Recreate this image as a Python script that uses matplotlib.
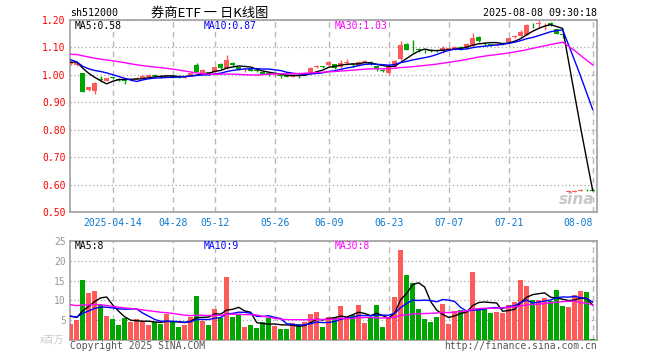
import numpy as np
import pandas as pd
import matplotlib
matplotlib.use('Agg')
import matplotlib.pyplot as plt

plt.rcParams['font.family'] = ['DejaVu Sans Mono', 'Noto Sans CJK SC']

# trading days shown (Qingming, May Day and Dragon Boat holidays skipped)
holidays = ['2025-04-04', '2025-05-01', '2025-05-02', '2025-05-05', '2025-06-02']
dates = pd.bdate_range('2025-04-02', '2025-08-08', freq='C', holidays=holidays)

open_ = [1.039, 1.036, 1.006, 0.943, 0.940, 0.985, 0.978, 0.992, 0.985, 0.984,
         0.980, 0.986, 0.990, 0.992, 0.998, 0.997, 0.994, 0.998, 0.994, 0.990,
         1.000, 1.036, 1.008, 1.010, 1.012, 1.040, 1.025, 1.045, 1.028, 1.016,
         1.020, 1.016, 1.012, 1.006, 0.998, 1.000, 0.998, 0.994, 0.998, 1.000,
         1.008, 1.028, 1.032, 1.036, 1.039, 1.028, 1.043, 1.040, 1.034, 1.046,
         1.048, 1.034, 1.018, 1.006, 1.030, 1.057, 1.114, 1.091, 1.094, 1.092,
         1.092, 1.090, 1.086, 1.094, 1.092, 1.100, 1.098, 1.104, 1.138, 1.114,
         1.112, 1.110, 1.112, 1.118, 1.138, 1.140, 1.146, 1.182, 1.185, 1.180,
         1.190, 1.167, 1.147, 0.572, 0.574, 0.576, 0.581, 0.580]
close = [1.046, 1.043, 0.939, 0.955, 0.972, 0.982, 0.988, 0.987, 0.983, 0.978,
         0.984, 0.990, 0.996, 0.998, 0.996, 0.994, 0.998, 0.992, 0.991, 0.994,
         1.006, 1.012, 1.016, 1.000, 1.028, 1.025, 1.055, 1.035, 1.020, 1.018,
         1.015, 1.014, 1.004, 0.998, 1.000, 0.997, 0.994, 1.000, 0.996, 1.006,
         1.025, 1.031, 1.028, 1.048, 1.025, 1.045, 1.046, 1.036, 1.048, 1.049,
         1.038, 1.021, 1.015, 1.030, 1.052, 1.110, 1.092, 1.089, 1.090, 1.089,
         1.086, 1.088, 1.098, 1.097, 1.100, 1.098, 1.112, 1.134, 1.122, 1.111,
         1.109, 1.112, 1.115, 1.136, 1.141, 1.155, 1.183, 1.180, 1.188, 1.183,
         1.180, 1.150, 1.145, 0.577, 0.578, 0.580, 0.579, 0.578]
high = [1.048, 1.046, 1.008, 0.957, 0.975, 0.995, 0.990, 0.994, 0.990, 0.986,
        0.986, 0.992, 1.000, 1.002, 1.002, 0.998, 1.000, 0.998, 0.995, 0.996,
        1.008, 1.042, 1.020, 1.012, 1.030, 1.042, 1.073, 1.048, 1.030, 1.024,
        1.022, 1.020, 1.014, 1.008, 1.004, 1.004, 1.000, 1.002, 1.002, 1.008,
        1.027, 1.037, 1.034, 1.050, 1.041, 1.054, 1.056, 1.045, 1.050, 1.053,
        1.050, 1.036, 1.022, 1.032, 1.054, 1.125, 1.116, 1.128, 1.098, 1.096,
        1.094, 1.092, 1.104, 1.100, 1.104, 1.106, 1.116, 1.152, 1.140, 1.120,
        1.114, 1.116, 1.118, 1.138, 1.146, 1.163, 1.185, 1.190, 1.200, 1.190,
        1.192, 1.168, 1.150, 0.580, 0.581, 0.583, 0.583, 0.581]
low = [1.036, 1.033, 0.936, 0.940, 0.930, 0.975, 0.976, 0.984, 0.978, 0.965,
       0.978, 0.984, 0.988, 0.990, 0.990, 0.990, 0.992, 0.990, 0.988, 0.989,
       0.998, 1.010, 1.006, 0.998, 1.010, 1.022, 1.022, 1.032, 1.018, 1.012,
       1.013, 1.012, 1.002, 0.996, 0.992, 0.990, 0.992, 0.992, 0.990, 0.998,
       1.006, 1.024, 1.026, 1.034, 1.020, 1.026, 1.036, 1.030, 1.032, 1.044,
       1.036, 1.014, 1.010, 1.004, 1.028, 1.055, 1.090, 1.082, 1.082, 1.078,
       1.085, 1.085, 1.080, 1.092, 1.090, 1.092, 1.096, 1.102, 1.120, 1.104,
       1.104, 1.106, 1.108, 1.116, 1.134, 1.138, 1.144, 1.170, 1.175, 1.165,
       1.178, 1.148, 1.135, 0.570, 0.573, 0.575, 0.577, 0.577]
# volume, millions
volume = [4.0, 5.0, 15.25, 11.75, 12.5, 8.75, 6.0, 5.25, 3.75, 5.5,
          4.5, 5.25, 4.75, 3.75, 4.5, 4.0, 6.5, 4.5, 3.25, 3.75,
          5.75, 11.0, 4.75, 3.75, 7.75, 5.5, 16.0, 5.75, 6.25, 3.25,
          3.75, 3.0, 4.5, 5.5, 3.5, 2.75, 2.75, 4.25, 4.0, 4.5,
          6.5, 7.0, 3.25, 5.75, 5.75, 8.5, 5.75, 6.25, 8.75, 4.25,
          5.75, 8.75, 3.25, 5.5, 10.75, 22.75, 16.5, 14.5, 7.75, 5.25,
          4.5, 5.75, 9.0, 4.0, 7.25, 7.5, 7.5, 17.25, 7.75, 8.0,
          6.75, 7.0, 6.75, 8.75, 9.5, 15.25, 13.75, 10.0, 10.0, 10.5,
          9.75, 12.75, 8.5, 8.25, 11.25, 12.25, 12.0, 0.25]

# 29 sessions before the window, only used to seed the moving averages
hist_close = [1.07, 1.08, 1.09, 1.10, 1.09, 1.08, 1.07, 1.08, 1.09, 1.10,
              1.10, 1.09, 1.08, 1.07, 1.06, 1.07, 1.08, 1.09, 1.10, 1.11,
              1.12, 1.10, 1.05, 1.03, 1.02, 1.04, 1.05, 1.05, 1.045]
hist_volume = [12, 10, 11, 9, 11, 12, 11.5, 10, 11, 9, 10, 11, 10, 9.5, 10.5,
               10, 9, 11, 10, 9.5, 7, 6, 5.5, 6, 5.5, 6.5, 7, 6, 6.5]

tick_dates = ['2025-04-14', '2025-04-28', '2025-05-12', '2025-05-26', '2025-06-09',
              '2025-06-23', '2025-07-07', '2025-07-21', '2025-08-08']
tick_labels = ['2025-04-14', '04-28', '05-12', '05-26', '06-09',
               '06-23', '07-07', '07-21', '08-08']

price_ma_labels = ['MA5:0.58', 'MA10:0.87', 'MA30:1.03']
vol_ma_labels = ['MA5:8', 'MA10:9', 'MA30:8']

RED = '#ff5a5a'
GREEN = '#00a600'
GRAY = '#999999'
BLUE_TXT = '#0a78d2'
MA_COLORS = ['black', '#0000ff', '#ff00ff']

x = np.arange(len(dates))
o = np.array(open_)
c = np.array(close)
up = c >= o
colors = np.where(up, RED, GREEN)

n_hist = len(hist_close)
cs = pd.Series(hist_close + close)
vs = pd.Series(hist_volume + volume)
ma = [cs.rolling(n).mean().values[n_hist:] for n in (5, 10, 30)]
vma = [vs.rolling(n).mean().values[n_hist:] for n in (5, 10, 30)]
ticks = [dates.get_loc(pd.Timestamp(d)) for d in tick_dates]

W, H = 660, 360
fig = plt.figure(figsize=(W / 100, H / 100), dpi=100)
ax1 = fig.add_axes([70 / W, 148 / H, 527 / W, 192 / H])
ax2 = fig.add_axes([70 / W, 20 / H, 527 / W, 99 / H])


def px(xp, yp):
    return xp / W, 1 - yp / H


for ax in (ax1, ax2):
    ax.set_xlim(-0.12, 87.72)
    for s in ax.spines.values():
        s.set_color('#a0a0a0')
        s.set_linewidth(1.2)
    ax.set_xticks(ticks)
    ax.grid(axis='x', linestyle=(0, (4, 3)), color='#b8b8b8', lw=1)
    ax.grid(axis='y', linestyle=(0, (1, 2)), color='#a8a8a8', lw=0.9)
    ax.tick_params(length=0)
    ax.set_axisbelow(True)

# candles
ax1.vlines(x, low, high, colors=colors, lw=1, zorder=2)
body = np.maximum(np.abs(c - o), 0.0025)
ax1.bar(x, body, bottom=np.minimum(o, c), width=0.82, color=colors, zorder=3)
for line, col in zip(ma, MA_COLORS):
    ax1.plot(x, line, color=col, lw=1, zorder=4)
ax1.set_ylim(0.5, 1.2)
ax1.set_yticks(np.arange(0.5, 1.201, 0.1))
ax1.set_yticklabels(['%.2f' % v for v in np.arange(0.5, 1.201, 0.1)],
                    color='red', fontsize=7)
ax1.set_xticklabels(tick_labels, color=BLUE_TXT, fontsize=7)
ax1.tick_params(axis='y', pad=3)
ax1.tick_params(axis='x', pad=4)
lbls = ax1.get_xticklabels()
lbls[-1].set_horizontalalignment('right')
lbls[-1].set_x(86.7)

# volume
ax2.bar(x, volume, width=0.82, color=colors, zorder=3)
for line, col in zip(vma, MA_COLORS):
    ax2.plot(x, line, color=col, lw=1, zorder=4)
ax2.set_ylim(0, 25)
ax2.set_yticks([5, 10, 15, 20, 25])
ax2.set_yticklabels(['5', '10', '15', '20', '25'], color=GRAY, fontsize=7)
ax2.tick_params(axis='y', pad=3)
ax2.set_xticklabels([])

# header / labels
fig.text(*px(70, 13), 'sh512000', fontsize=7.2, va='center', ha='left')
fig.text(*px(210, 13), '券商ETF 一 日K线图', fontsize=9.5, va='center', ha='center',
         family=['Noto Sans CJK SC', 'DejaVu Sans'])
fig.text(*px(597, 13), '2025-08-08 09:30:18', fontsize=7.2, va='center', ha='right')

for xp, txt, col in zip((75, 204, 335), price_ma_labels, MA_COLORS):
    fig.text(*px(xp, 26), txt, fontsize=7, va='center', color=col)
for xp, txt, col in zip((75, 204, 335), vol_ma_labels, MA_COLORS):
    fig.text(*px(xp, 246), txt, fontsize=7, va='center', color=col)

fig.text(*px(64, 340), 'x百万', fontsize=7, va='center', ha='right', color='#c8c8c8',
         family=['Noto Sans CJK SC', 'DejaVu Sans'])
fig.text(*px(70, 346), 'Copyright 2025 SINA.COM', fontsize=7, va='center', color='#555555')
fig.text(*px(597, 346), 'http://finance.sina.com.cn', fontsize=7, va='center', ha='right',
         color='#555555')
fig.text(*px(594, 199), 'sina', fontsize=11, va='center', ha='right', color='#bbbbbb',
         style='italic', weight='bold', family='DejaVu Sans', alpha=0.8)

plt.savefig('out.png', dpi=100)
